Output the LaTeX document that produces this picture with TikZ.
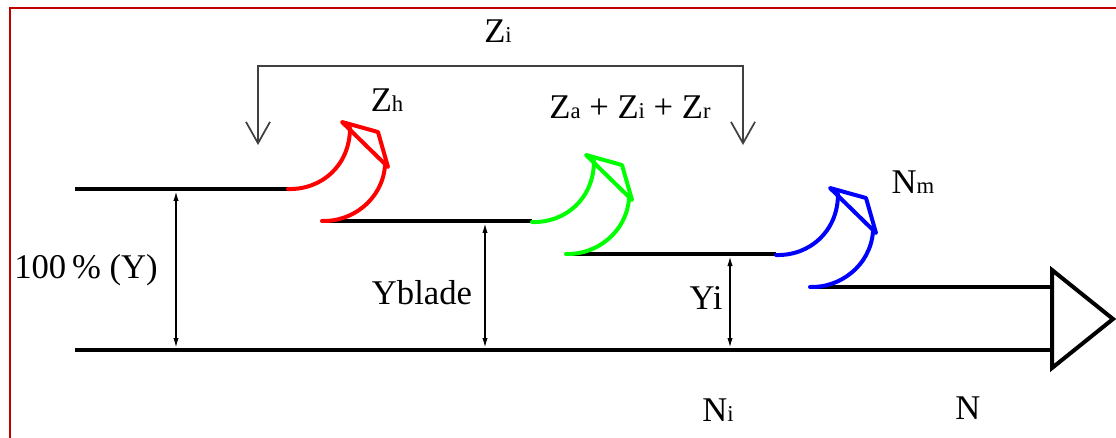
\documentclass[tikz,border=0pt]{standalone}
\usepackage{fontspec}
\setmainfont{Liberation Serif}
\usetikzlibrary{arrows.meta}
\definecolor{framered}{HTML}{C00000}
\definecolor{bracketgray}{HTML}{404040}
\definecolor{flowgreen}{HTML}{00FF00}
\newcommand{\idx}[1]{{\fontsize{17}{17}\selectfont #1}}

\begin{document}
\begin{tikzpicture}[x=0.75pt, y=-0.75pt,
  level/.style={line width=3.6pt},
  dim/.style={line width=0.9pt, {Latex[length=7pt,width=4pt]}-{Latex[length=7pt,width=4pt]}, shorten <=2pt, shorten >=2pt},
  bracket/.style={bracketgray, line width=1.3pt},
  flow/.style={line width=3pt, line join=round, line cap=round},
  lbl/.style={font=\fontsize{26}{28}\selectfont, inner sep=0pt}]

  \useasboundingbox (0,0) rectangle (1116,438);
  \draw[framered, line width=2.2pt] (10,438) -- (10,8) -- (1116,8);

  % levels
  \coordinate (l1a) at (75,189);  \coordinate (l1b) at (288,189);
  \coordinate (l2a) at (322,221); \coordinate (l2b) at (532,221);
  \coordinate (l3a) at (566,254); \coordinate (l3b) at (776,254);
  \coordinate (l4a) at (810,287); \coordinate (l4b) at (1052,287);
  \coordinate (base a) at (75,350); \coordinate (base b) at (1052,350);
  \draw[level] (l1a) -- (l1b);
  \draw[level] (l2a) -- (l2b);
  \draw[level] (l3a) -- (l3b);
  \draw[level] (l4a) -- (l4b);
  \draw[level] (base a) -- (base b);

  % output arrow head
  \coordinate (head top) at (1052,270);
  \coordinate (head tip) at (1113,319);
  \coordinate (head bot) at (1052,368);
  \draw[line width=3pt, line join=miter] (head top) -- (head tip) -- (head bot) -- cycle;

  % losses
  \foreach \c [count=\i from 0] in {red,flowgreen,blue} {
    \begin{scope}[shift={(\i*244,\i*33)}, \c, flow]
      \draw (288,189) .. controls (322,190) and (350,165) .. (350,128);
      \draw (322,221) .. controls (352,222) and (382,200) .. (385,166);
      \draw (342,122) -- (378,132) -- (388,167) -- cycle;
    \end{scope}
  }

  % heights
  \draw[dim] (176,189) coordinate (d1t) -- (176,350) coordinate (d1b);
  \draw[dim] (485,221) coordinate (d2t) -- (485,350) coordinate (d2b);
  \draw[dim] (730,254) coordinate (d3t) -- (730,350) coordinate (d3b);

  % bracket
  \coordinate (brl) at (258,145);
  \coordinate (brr) at (743,145);
  \draw[bracket, {Straight Barb[length=16pt,width=18pt]}-{Straight Barb[length=16pt,width=18pt]}]
    (brl) -- (258,66) -- (743,66) -- (brr);

  % labels
  \node[lbl] (zi)     at (498,31)  {Z\idx{i}};
  \node[lbl] (zh)     at (387,100) {Z\idx{h}};
  \node[lbl] (zsum)   at (630,107) {Z\idx{a} + Z\idx{i} + Z\idx{r}};
  \node[lbl] (nm)     at (913,182) {N\idx{m}};
  \node[lbl] (ytot)   at (86,270)  {100\,\% (Y)};
  \node[lbl] (yblade) at (422,293) {Yblade};
  \node[lbl] (yi)     at (706,298) {Yi};
  \node[lbl] (ni)     at (718,410) {N\idx{i}};
  \node[lbl] (n)      at (968,408) {N};
\end{tikzpicture}
\end{document}
